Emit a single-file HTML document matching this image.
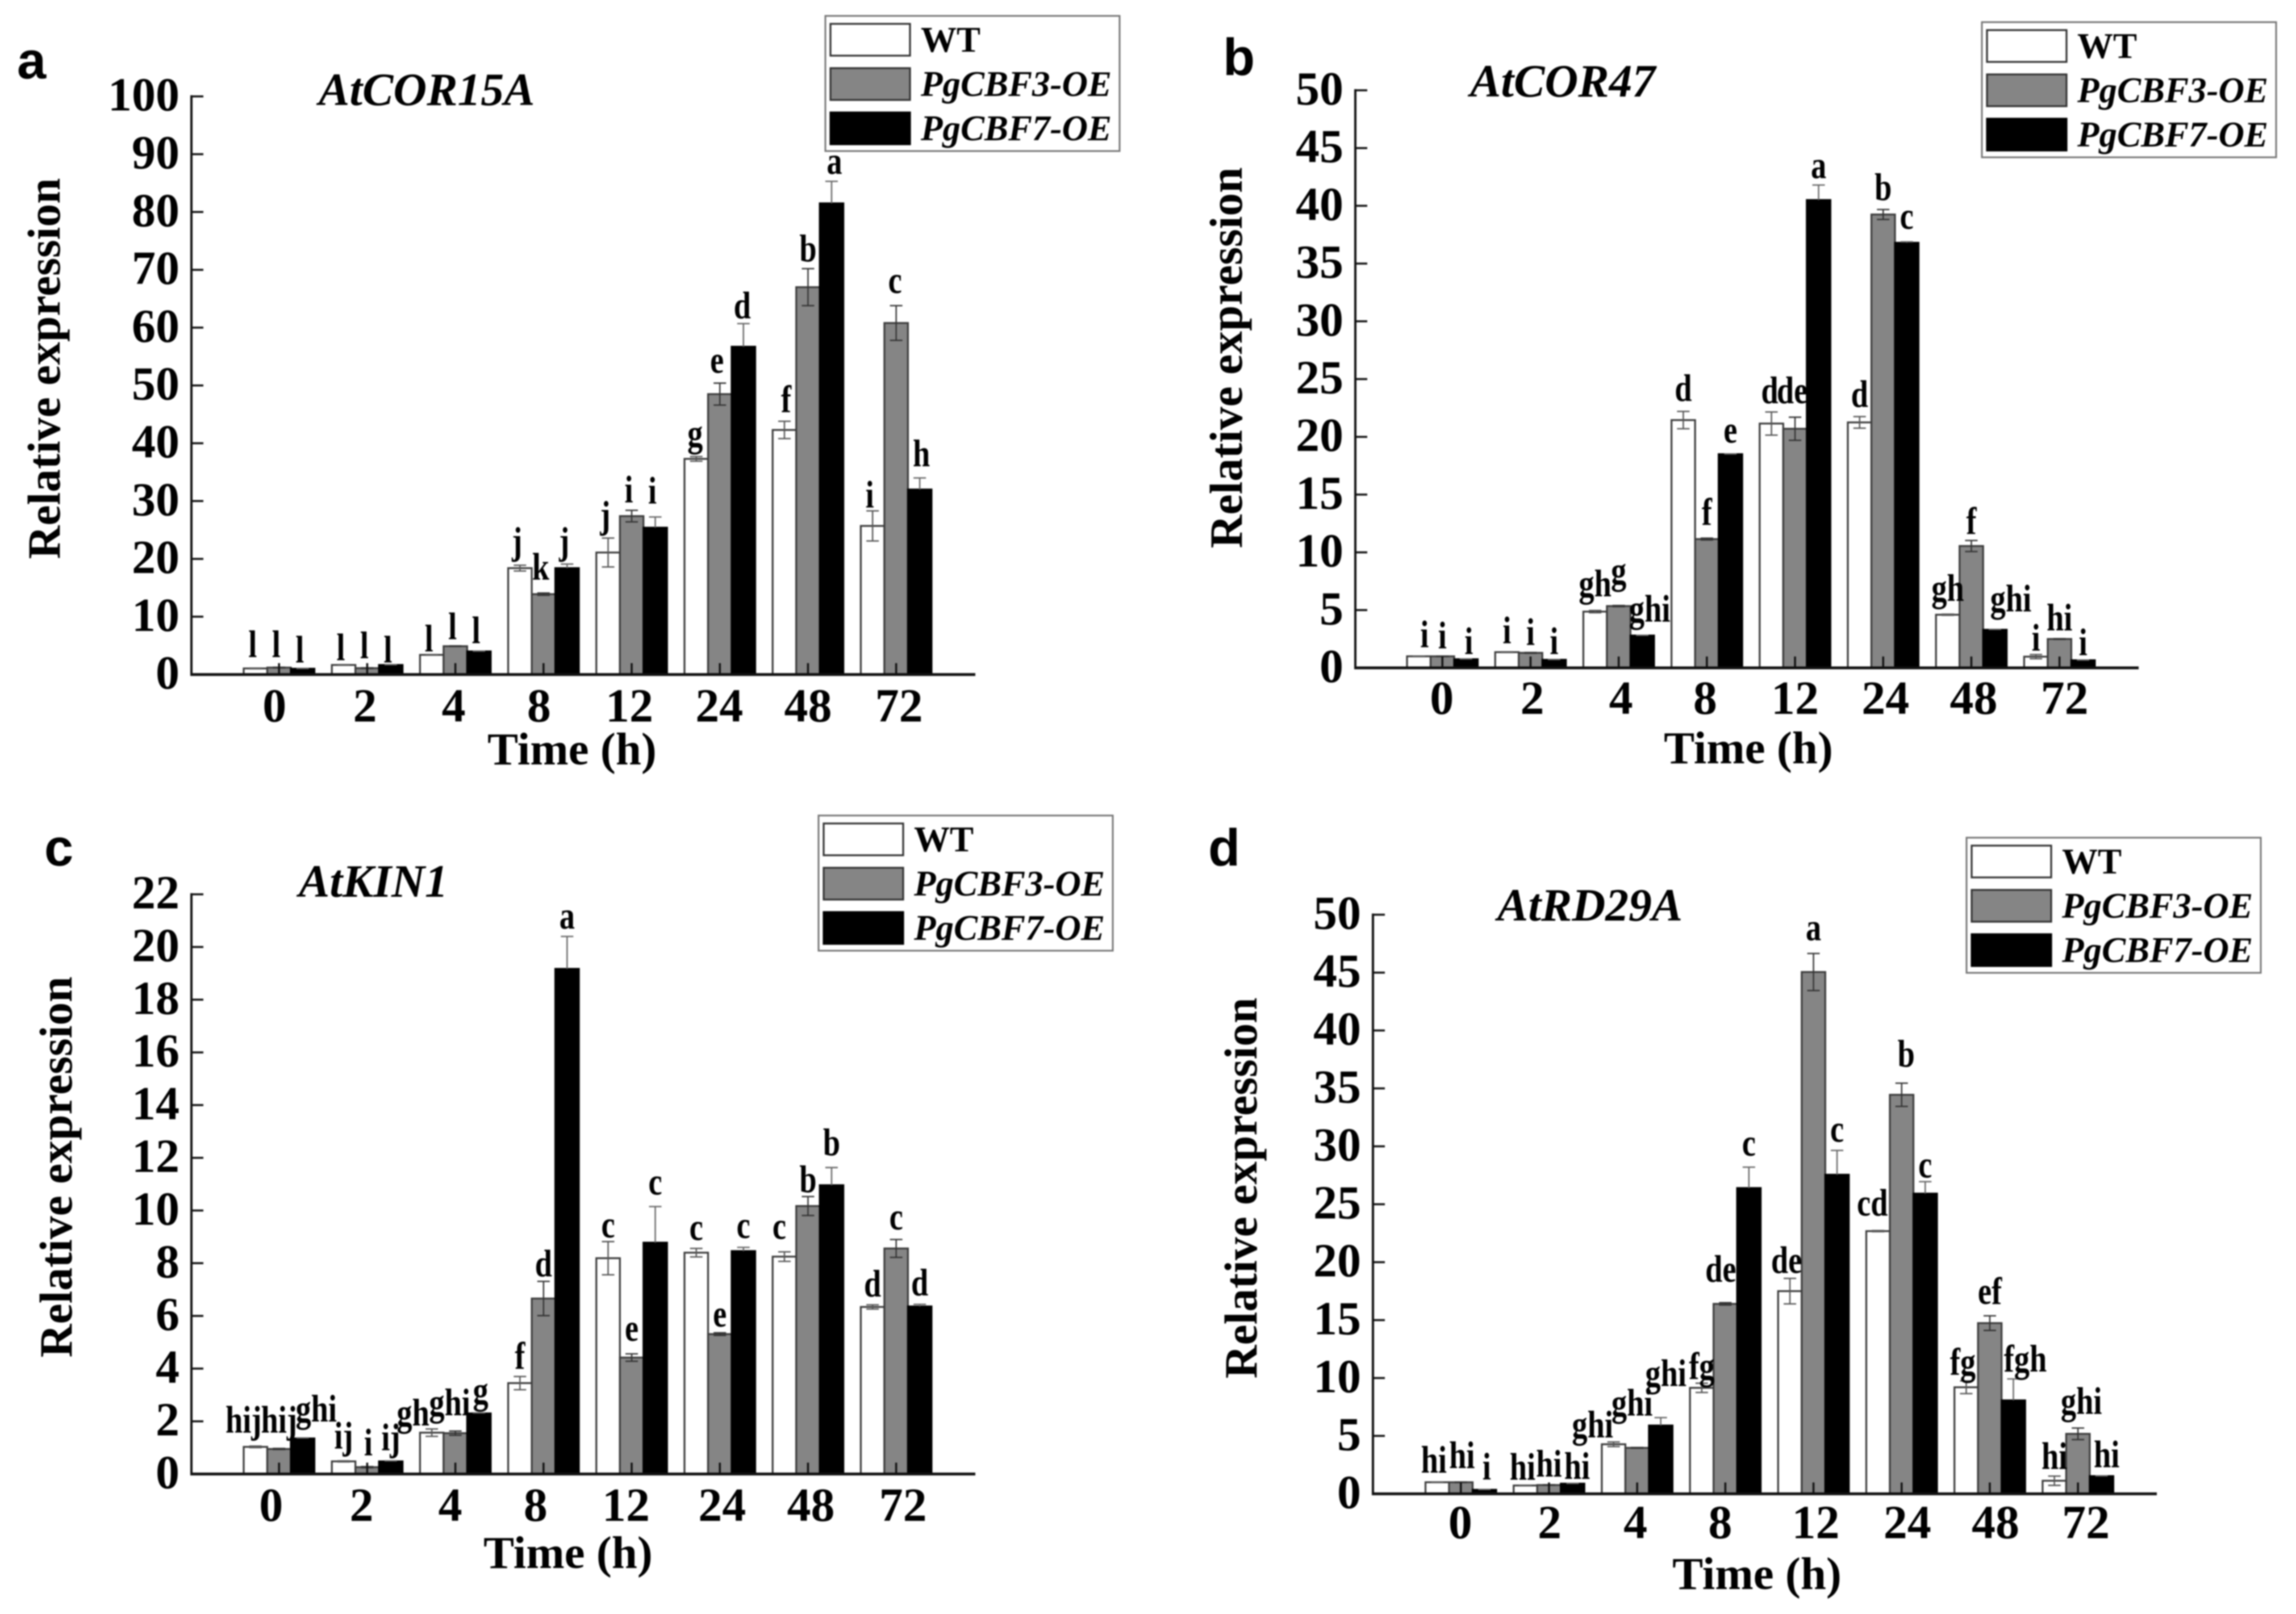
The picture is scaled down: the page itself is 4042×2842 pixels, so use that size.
<!DOCTYPE html>
<html lang="en">
<head>
<meta charset="utf-8">
<title>Relative expression of cold-responsive genes</title>
<style>
html,body{margin:0;padding:0;background:#fff;}
svg{display:block;filter:blur(1.2px);}
text{font-family:"Liberation Serif",serif;font-weight:bold;fill:#000;}
</style>
</head>
<body>
<svg id="figure" xmlns="http://www.w3.org/2000/svg" width="4042" height="2842" viewBox="0 0 4042 2842"></svg>
<script>
const categories = ["0","2","4","8","12","24","48","72"];
const seriesNames = ["WT","PgCBF3-OE","PgCBF7-OE"];

const ticksA = [0,10,20,30,40,50,60,70,80,90,100];
const wtA = [1.05,1.65,3.4,18.4,21.1,37.3,42.3,25.7];
const f3A = [1.2,1.1,4.9,13.9,27.4,48.5,67,60.8];
const f7A = [1.0,1.65,4.0,18.4,25.4,56.7,81.5,32];
const wtErrA = [0.05,0.05,0.05,0.5,2.5,0.4,1.5,2.6];
const f3ErrA = [0.05,0.05,0.05,0.2,1.0,1.9,3.2,3.0];
const f7ErrA = [0.05,0.05,0.05,0.7,1.85,4.0,3.8,2.0];
const wtLettersA = ["l","l","l","j","j","g","f","i"];
const f3LettersA = ["l","l","l","k","i","e","b","c"];
const f7LettersA = ["l","l","l","j","i","d","a","h"];
const wtLevelsA = [3.0,2.5,4.0,20.9,25.4,39.5,45.4,28.9];
const f3LevelsA = [3.0,2.8,6.1,16.4,29.8,52.2,71.5,66];
const f7LevelsA = [2.1,2.1,5.4,20.9,29.6,61.6,86.6,36];

const ticksB = [0,5,10,15,20,25,30,35,40,45,50];
const wtB = [1.0,1.36,4.87,21.45,21.15,21.25,4.6,0.97];
const f3B = [1.0,1.3,5.35,11.15,20.7,39.25,10.55,2.5];
const f7B = [0.75,0.7,2.8,18.5,40.5,36.8,3.3,0.66];
const wtErrB = [0.02,0.03,0.1,0.75,1.0,0.5,0.05,0.18];
const f3ErrB = [0.02,0.03,0.05,0.08,1.0,0.43,0.48,0.03];
const f7ErrB = [0.02,0.02,0.02,0.02,1.3,0.08,0.03,0.02];
const wtLettersB = ["i","i","gh","d","d","d","gh","i"];
const f3LettersB = ["i","i","g","f","de","b","f","hi"];
const f7LettersB = ["i","i","ghi","e","a","c","ghi","i"];
const wtLevelsB = [1.8,2.15,6.2,23.1,22.9,22.6,5.8,1.5];
const f3LevelsB = [1.7,2.0,7.3,12.4,22.9,40.5,11.6,3.25];
const f7LevelsB = [1.2,1.2,4.0,19.5,42.4,38.0,4.9,1.1];

const ticksC = [0,2,4,6,8,10,12,14,16,18,20,22];
const wtC = [1.03,0.48,1.57,3.45,8.19,8.4,8.25,6.34];
const f3C = [0.95,0.26,1.55,6.66,4.42,5.31,10.17,8.56];
const f7C = [1.35,0.48,2.3,19.17,8.78,8.46,10.96,6.36];
const wtErrC = [0.03,0.02,0.14,0.25,0.63,0.16,0.18,0.08];
const f3ErrC = [0.02,0.02,0.08,0.65,0.14,0.05,0.36,0.34];
const f7ErrC = [0.02,0.02,0.02,1.23,1.37,0.14,0.67,0.08];
const wtLettersC = ["hij","ij","gh","f","c","c","c","d"];
const f3LettersC = ["hij","i","ghi","d","e","e","b","c"];
const f7LettersC = ["ghi","ij","g","a","c","c","b","d"];
const wtLevelsC = [1.57,0.97,1.84,4.0,8.98,8.88,8.92,6.74];
const f3LevelsC = [1.57,0.71,2.23,7.5,5.05,5.59,10.7,9.28];
const f7LevelsC = [1.99,0.91,2.68,20.7,10.6,8.96,12.1,6.78];

const ticksD = [0,5,10,15,20,25,30,35,40,45,50];
const wtD = [1.0,0.72,4.28,9.15,17.5,22.68,9.2,1.13];
const f3D = [1.0,0.76,3.97,16.4,45.05,34.45,14.74,5.18];
const f7D = [0.35,0.88,5.9,26.4,27.55,25.92,8.07,1.53];
const wtErrD = [0.02,0.02,0.2,0.4,1.1,0.05,0.55,0.4];
const f3ErrD = [0.02,0.02,0.03,0.1,1.6,1.0,0.63,0.5];
const f7ErrD = [0.02,0.02,0.68,1.8,2.1,1.03,1.85,0.02];
const wtLettersD = ["hi","hi","ghi","fg","de","cd","fg","hi"];
const f3LettersD = ["hi","hi","ghi","de","a","b","ef","ghi"];
const f7LettersD = ["i","hi","ghi","c","c","c","fgh","hi"];
const wtLevelsD = [1.83,1.21,4.87,9.92,19.07,24.03,10.3,2.16];
const f3LevelsD = [2.23,1.49,6.75,18.3,47.8,36.9,16.4,6.9];
const f7LevelsD = [1.24,1.29,9.3,29.2,30.4,27.3,10.55,2.3];

const SVGNS = "http://www.w3.org/2000/svg";
const figure = document.getElementById("figure");
const PITCH = 155.2, BAR_W = 41.5;
const FILLS = ["#ffffff","#858585","#000000"];
const BAR_STROKES = ["#3c3c3c","#3c3c3c","#000000"];
const ERR_STROKES = ["#555555","#333333","#666666"];

function node(parent, tag, attrs, txt) {
  const el = document.createElementNS(SVGNS, tag);
  for (const k in attrs) el.setAttribute(k, attrs[k]);
  if (txt !== undefined) el.textContent = txt;
  parent.appendChild(el);
  return el;
}

function drawPanel(p) {
  const g = node(figure, "g", {});
  
  

  const yMax = p.ticks[p.ticks.length - 1];
  const yScale = v => p.y0 - v * (p.y0 - p.yTop) / yMax;
  const groupX = i => p.barStart + i * PITCH;
  const barX = (i, s) => groupX(i) + s * BAR_W;
  const groupCenter = i => groupX(i) + 1.5 * BAR_W;

  const letterEl = node(g, "text", {x: p.letterX, y: p.letterY, "font-size": 92, style: 'font-family:"Liberation Sans",sans-serif'}, p.id);
  
  

  const titleEl = node(g, "text", {x: p.titleX, y: p.titleY, "font-size": 81.5, "font-style": "italic"}, p.title);
  
  

  const yTitle = node(g, "text", {x: 0, y: 0, "font-size": 81.5, "text-anchor": "middle", transform: "translate(" + p.yTitleX + " " + p.yTitleY + ") rotate(-90)"}, "Relative expression");
  
  

  const xTitle = node(g, "text", {x: p.xTitleX, y: p.xTitleY, "font-size": 81, "text-anchor": "middle"}, "Time (h)");
  
  

  p.series.forEach((s, si) => {
    s.values.forEach((v, i) => {
      const top = yScale(v);
      const bar = node(g, "rect", {x: barX(i, si), y: top, width: BAR_W, height: p.y0 - top, fill: FILLS[si], stroke: BAR_STROKES[si], "stroke-width": 3.2});
      
      
    });
  });

  p.series.forEach((s, si) => {
    s.values.forEach((v, i) => {
      const cx = barX(i, si) + BAR_W / 2;
      const hi = yScale(v + s.errs[i]);
      const lo = yScale(Math.max(0, v - s.errs[i]));
      const top = yScale(v);
      const path = si === 2
        ? "M" + cx + " " + top + "V" + hi + "M" + (cx - 11) + " " + hi + "H" + (cx + 11)
        : "M" + cx + " " + lo + "V" + hi + "M" + (cx - 11) + " " + hi + "H" + (cx + 11) + "M" + (cx - 11) + " " + lo + "H" + (cx + 11);
      const err = node(g, "path", {d: path, fill: "none", stroke: ERR_STROKES[si], "stroke-width": 2.4});
      
      

      const nudge = p.labelNudge[i + "," + si] || 0;
      const lx = cx + p.labelDx + nudge;
      const ly = yScale(s.levels[i]);
      const lab = node(g, "text", {x: 0, y: 0, "font-size": 68, "text-anchor": "middle", transform: "translate(" + lx + " " + ly + ") scale(0.8 1)"}, s.letters[i]);
      
      
    });
  });

  const yAxis = node(g, "line", {x1: p.axisX, x2: p.axisX, y1: p.yTop - 2, y2: p.y0 + 2, stroke: "#111", "stroke-width": 4});
  
  
  const xAxis = node(g, "line", {x1: p.axisX - 2, x2: p.axisEnd, y1: p.y0, y2: p.y0, stroke: "#111", "stroke-width": 5});
  
  

  p.ticks.forEach(t => {
    const y = yScale(t);
    if (t !== 0) {
      const tick = node(g, "line", {x1: p.axisX, x2: p.axisX + 21, y1: y, y2: y, stroke: "#111", "stroke-width": 3.5});
      
      
    }
    const tl = node(g, "text", {x: p.axisX - 21, y: y + 25, "font-size": 84, "text-anchor": "end"}, String(t));
    
    
  });

  categories.forEach((c, i) => {
    const cx = groupCenter(i);
    const tick = node(g, "line", {x1: cx, x2: cx, y1: p.y0, y2: p.y0 - 20, stroke: "#111", "stroke-width": 3.5});
    
    
    const tl = node(g, "text", {x: cx + p.xLabelNudge[i], y: p.y0 + p.xLabelDrop, "font-size": 84, "text-anchor": "middle"}, c);
    
    
  });

  const lg = node(g, "g", {});
  
  
  const box = node(lg, "rect", {x: p.legX, y: p.legY, width: 518, height: 238, fill: "#fff", stroke: "#777", "stroke-width": 3});
  
  
  seriesNames.forEach((name, si) => {
    const sw = node(lg, "rect", {x: p.legX + 9, y: p.legY + 14 + si * 78, width: 140, height: 56, fill: FILLS[si], stroke: si === 2 ? "#000" : "#333", "stroke-width": 3.2});
    
    
    const attrs = {x: p.legX + 168, y: p.legY + 63 + si * 78, "font-size": 63};
    if (si > 0) attrs["font-style"] = "italic";
    const tx = node(lg, "text", attrs, name);
    
    
  });
}

drawPanel({
  id: "a", title: "AtCOR15A", ticks: ticksA,
  series: [
    {values: wtA, errs: wtErrA, letters: wtLettersA, levels: wtLevelsA},
    {values: f3A, errs: f3ErrA, letters: f3LettersA, levels: f3LevelsA},
    {values: f7A, errs: f7ErrA, letters: f7LettersA, levels: f7LevelsA}
  ],
  axisX: 337, axisEnd: 1717, y0: 1187.7, yTop: 169.7, barStart: 429,
  letterX: 30, letterY: 138, titleX: 561, titleY: 185,
  yTitleX: 105, yTitleY: 649, xTitleX: 1007, xTitleY: 1346,
  legX: 1453, legY: 28, xLabelDrop: 83,
  xLabelNudge: [-8,-4,-3,-8,-4,-1,0,5], labelDx: -5,
  labelNudge: {"5,0":3,"5,2":3,"6,0":8,"6,1":5,"6,2":10,"7,1":3,"7,2":8}
});

drawPanel({
  id: "b", title: "AtCOR47", ticks: ticksB,
  series: [
    {values: wtB, errs: wtErrB, letters: wtLettersB, levels: wtLevelsB},
    {values: f3B, errs: f3ErrB, letters: f3LettersB, levels: f3LevelsB},
    {values: f7B, errs: f7ErrB, letters: f7LettersB, levels: f7LevelsB}
  ],
  axisX: 2386, axisEnd: 3765, y0: 1176, yTop: 159, barStart: 2477,
  letterX: 2153, letterY: 132, titleX: 2588, titleY: 170,
  yTitleX: 2186, yTitleY: 630, xTitleX: 3078, xTitleY: 1344,
  legX: 3489, legY: 39, xLabelDrop: 81,
  xLabelNudge: [-1,3,4,-3,0,4,4,9], labelDx: 0,
  labelNudge: {"0,0":10,"0,2":5,"2,2":13,"4,0":-3,"4,1":-5,"6,2":28}
});

drawPanel({
  id: "c", title: "AtKIN1", ticks: ticksC,
  series: [
    {values: wtC, errs: wtErrC, letters: wtLettersC, levels: wtLevelsC},
    {values: f3C, errs: f3ErrC, letters: f3LettersC, levels: f3LevelsC},
    {values: f7C, errs: f7ErrC, letters: f7LettersC, levels: f7LevelsC}
  ],
  axisX: 337, axisEnd: 1717, y0: 2595.5, yTop: 1574.7, barStart: 429,
  letterX: 78, letterY: 1524, titleX: 526, titleY: 1579,
  yTitleX: 126, yTitleY: 2055, xTitleX: 1000, xTitleY: 2761,
  legX: 1441, legY: 1436, xLabelDrop: 82.5,
  xLabelNudge: [-14,-10,-9,-14,-10,4,5,12], labelDx: 0,
  labelNudge: {"0,0":-21,"0,2":24,"1,1":2,"2,0":-33,"2,1":-10,"2,2":3,"6,0":-9}
});

drawPanel({
  id: "d", title: "AtRD29A", ticks: ticksD,
  series: [
    {values: wtD, errs: wtErrD, letters: wtLettersD, levels: wtLevelsD},
    {values: f3D, errs: f3ErrD, letters: f3LettersD, levels: f3LevelsD},
    {values: f7D, errs: f7ErrD, letters: f7LettersD, levels: f7LevelsD}
  ],
  axisX: 2417, axisEnd: 3797, y0: 2630.4, yTop: 1610.6, barStart: 2509.5,
  letterX: 2127, letterY: 1524, titleX: 2636, titleY: 1621,
  yTitleX: 2212, yTitleY: 2092, xTitleX: 3093, xTitleY: 2798,
  legX: 3462, legY: 1475, xLabelDrop: 78,
  xLabelNudge: [-1,1,-3,-9,4,10,10,14], labelDx: 0,
  labelNudge: {"0,0":-6,"0,1":2,"0,2":4,"1,0":-5,"1,2":8,"2,0":-37,"2,1":-9,"2,2":9,"3,1":-8,"4,0":-6,"5,0":-10,"5,1":8,"6,0":-6,"6,2":21,"7,1":6,"7,2":9}
});
</script>
</body>
</html>
